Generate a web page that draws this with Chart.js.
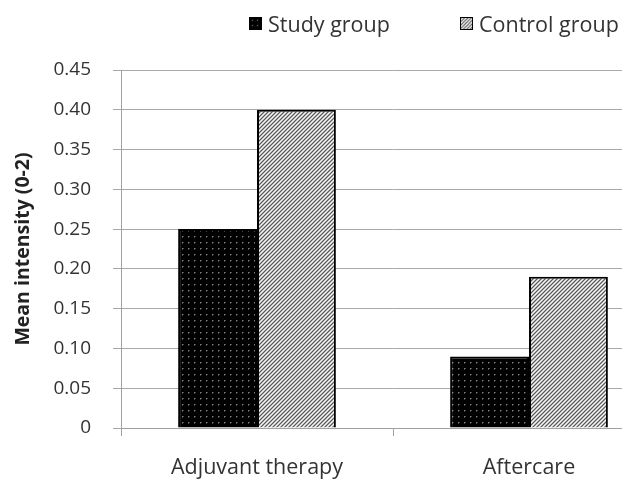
<!DOCTYPE html>
<html lang="en">
<head>
<meta charset="UTF-8">
<title>Mean intensity</title>
<script src="https://cdn.jsdelivr.net/npm/chart.js"></script>
<style>
  html, body { margin: 0; padding: 0; background: #fff; overflow: hidden; }
  .quadro { position: relative; width: 680px; height: 480px; }
  .legenda { position: absolute; top: 9px; left: 0; font-family: "Open Sans", Lato, sans-serif; font-size: 21.5px; color: #333; }
  .item { position: absolute; white-space: nowrap; display: flex; align-items: center; }
  .item canvas { width: 13px; height: 13px; margin-right: 6px; border: 1px solid #000; box-sizing: border-box; }
</style>
</head>
<body>
<div class="quadro">
  <canvas id="grafico"></canvas>
  <div class="legenda">
    <div class="item" style="left:249px"><canvas id="swEstudo" width="13" height="13"></canvas><span>Study group</span></div>
    <div class="item" style="left:460px"><canvas id="swControle" width="13" height="13"></canvas><span>Control group</span></div>
  </div>
</div>

<script>
  // dados
  let categorias = ["Adjuvant therapy", "Aftercare"];
  let grupoEstudo = [0.25, 0.09];
  let grupoControle = [0.40, 0.19];
  let nomesSeries = ["Study group", "Control group"];
  let tituloY = "Mean intensity (0-2)";

  // padrões das barras
  function padraoPontos() {
    let c = document.createElement("canvas");
    c.width = 6; c.height = 6;
    let ctx = c.getContext("2d");
    ctx.fillStyle = "#000";
    ctx.fillRect(0, 0, 6, 6);
    ctx.fillStyle = "#808080";
    ctx.fillRect(2, 2, 1, 1);
    ctx.fillStyle = "#444";
    ctx.fillRect(3, 2, 1, 1);
    ctx.fillRect(2, 3, 1, 1);
    return c;
  }

  function padraoListras() {
    let c = document.createElement("canvas");
    c.width = 4; c.height = 4;
    let ctx = c.getContext("2d");
    for (let x = 0; x < 4; x++) {
      for (let y = 0; y < 4; y++) {
        let k = (x + y) % 4;
        ctx.fillStyle = k === 3 ? "#5a5a5a" : (k === 0 || k === 2) ? "#b4b4b4" : "#f8f8f8";
        ctx.fillRect(x, y, 1, 1);
      }
    }
    return c;
  }

  let ctxTmp = document.createElement("canvas").getContext("2d");
  let fillEstudo = ctxTmp.createPattern(padraoPontos(), "repeat");
  let fillControle = ctxTmp.createPattern(padraoListras(), "repeat");

  // amostras da legenda
  function pintarAmostra(id, tile) {
    let cv = document.getElementById(id);
    let c = cv.getContext("2d");
    c.fillStyle = c.createPattern(tile, "repeat");
    c.fillRect(0, 0, cv.width, cv.height);
  }
  pintarAmostra("swEstudo", padraoPontos());
  pintarAmostra("swControle", padraoListras());

  Chart.defaults.font.family = "'Open Sans', Lato, sans-serif";
  Chart.defaults.color = "#333";

  const config = {
    type: "bar",
    data: {
      labels: categorias,
      datasets: [
        {
          label: nomesSeries[0],
          data: grupoEstudo,
          backgroundColor: fillEstudo,
          borderColor: "#000",
          borderWidth: 2,
          categoryPercentage: 0.58,
          barPercentage: 1.0,
        },
        {
          label: nomesSeries[1],
          data: grupoControle,
          backgroundColor: fillControle,
          borderColor: "#000",
          borderWidth: 2,
          categoryPercentage: 0.58,
          barPercentage: 1.0,
        },
      ],
    },
    options: {
      responsive: true,
      maintainAspectRatio: false,
      animation: false,
      layout: { padding: { top: 70, right: 15, left: 0, bottom: 0 } },
      scales: {
        x: {
          afterFit: function (scale) { scale.height = 52; },
          grid: {
            offset: true,
            drawOnChartArea: false,
            color: "#a0a0a0",
            tickLength: 8,
          },
          border: { color: "#a0a0a0", width: 1 },
          ticks: { font: { size: 21.5 }, color: "#333", padding: 19 },
        },
        y: {
          min: 0,
          max: 0.45,
          afterFit: function (scale) { scale.width = 121; },
          grid: { color: "#a8a8a8", tickLength: 8 },
          border: { color: "#a0a0a0", width: 1 },
          ticks: {
            stepSize: 0.05,
            padding: 22,
            font: { size: 19 },
            color: "#333",
            callback: function (v) { return v === 0 ? "0" : v.toFixed(2); },
          },
          title: {
            display: true,
            text: tituloY,
            font: { size: 19.5, weight: "bold" },
            color: "#222",
            padding: { top: 12, bottom: 0 },
          },
        },
      },
      plugins: {
        legend: { display: false },
        tooltip: { enabled: false },
      },
    },
  };

  new Chart(document.getElementById("grafico"), config);
</script>
</body>
</html>
